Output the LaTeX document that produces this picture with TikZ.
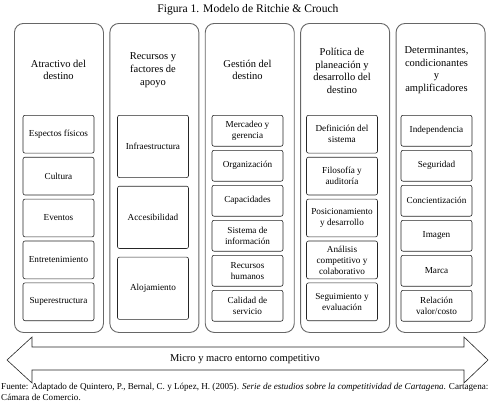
\documentclass[tikz,border=0pt]{standalone}
\usepackage{fontspec}
\setmainfont{Liberation Serif}
\usetikzlibrary{positioning}

\begin{document}
\begin{tikzpicture}[
    x=1pt, y=-1pt,
    node distance=5.5pt,
    column/.style={draw=black!60, line width=0.9pt, rounded corners=9pt, minimum width=89pt, minimum height=309pt, inner sep=0pt},
    header/.style={align=center, inner sep=0pt, font=\fontsize{10.5}{12.7}\selectfont},
    item/.style={draw=black!85, line width=0.6pt, rounded corners=2pt, minimum width=71pt, align=center, inner sep=1pt, font=\fontsize{9.2}{11}\selectfont},
    itemfive/.style={item, minimum height=37.8pt},
    itemthree/.style={item, minimum height=62.3pt},
    itemsix/.style={item, minimum height=30.9pt},
    band/.style={draw=black!85, line width=0.6pt, line join=miter}
]
    \useasboundingbox (0,0) rectangle (492,415);

    % Title
    \node[font=\fontsize{11.6}{13}\selectfont] (titulo) at (248,10) {Figura 1. Modelo de Ritchie \& Crouch};

    % Columns
    \node[column, anchor=north west] (atractivo) at (14,23) {};
    \node[column, right=of atractivo] (recursos) {};
    \node[column, right=of recursos] (gestion) {};
    \node[column, right=of gestion] (politica) {};
    \node[column, right=of politica] (determinantes) {};

    % Headers
    \node[header] (h1) at (58.5,70) {Atractivo del\\destino};
    \node[header] (h2) at (153,70) {Recursos y\\factores de\\apoyo};
    \node[header] (h3) at (247.5,70) {Gestión del\\destino};
    \node[header] (h4) at (342,71) {Política de\\planeación y\\desarrollo del\\destino};
    \node[header] (h5) at (436.5,70) {Determinantes,\\condicionantes\\y\\amplificadores};

    % Atractivo del destino
    \node[itemfive, anchor=north] (espectos) at (58.5,115) {Espectos físicos};
    \node[itemfive, below=3.5pt of espectos] (cultura) {Cultura};
    \node[itemfive, below=3.5pt of cultura] (eventos) {Eventos};
    \node[itemfive, below=3.5pt of eventos] (entretenimiento) {Entretenimiento};
    \node[itemfive, below=3.5pt of entretenimiento] (superestructura) {Superestructura};

    % Recursos y factores de apoyo
    \node[itemthree, anchor=north] (infraestructura) at (153,115) {Infraestructura};
    \node[itemthree, below=8pt of infraestructura] (accesibilidad) {Accesibilidad};
    \node[itemthree, below=8pt of accesibilidad] (alojamiento) {Alojamiento};

    % Gestion del destino
    \node[itemsix, anchor=north] (mercadeo) at (247.5,115) {Mercadeo y\\gerencia};
    \node[itemsix, below=3.5pt of mercadeo] (organizacion) {Organización};
    \node[itemsix, below=3.5pt of organizacion] (capacidades) {Capacidades};
    \node[itemsix, below=3.5pt of capacidades] (sistema) {Sistema de\\información};
    \node[itemsix, below=3.5pt of sistema] (humanos) {Recursos\\humanos};
    \node[itemsix, below=3.5pt of humanos] (calidad) {Calidad de\\servicio};

    % Politica de planeacion
    \node[itemfive, anchor=north] (definicion) at (342,115) {Definición del\\sistema};
    \node[itemfive, below=3.5pt of definicion] (filosofia) {Filosofía y\\auditoría};
    \node[itemfive, below=3.5pt of filosofia] (posicionamiento) {Posicionamiento\\y desarrollo};
    \node[itemfive, below=3.5pt of posicionamiento] (analisis) {Análisis\\competitivo y\\colaborativo};
    \node[itemfive, below=3.5pt of analisis] (seguimiento) {Seguimiento y\\evaluación};

    % Determinantes
    \node[itemsix, anchor=north] (independencia) at (436.5,115) {Independencia};
    \node[itemsix, below=3.5pt of independencia] (seguridad) {Seguridad};
    \node[itemsix, below=3.5pt of seguridad] (concientizacion) {Concientización};
    \node[itemsix, below=3.5pt of concientizacion] (imagen) {Imagen};
    \node[itemsix, below=3.5pt of imagen] (marca) {Marca};
    \node[itemsix, below=3.5pt of marca] (relacion) {Relación\\valor/costo};

    % Double arrow
    \draw[band] (7,360) -- (32,337) -- (32,347) -- (464,347) -- (464,337) -- (488,360)
        -- (464,383) -- (464,370) -- (32,370) -- (32,383) -- cycle;
    \node[font=\fontsize{10.5}{12}\selectfont] (entorno) at (245,359) {Micro y macro entorno competitivo};

    % Source
    \node[anchor=north west, align=left, inner sep=0pt, font=\fontsize{9.1}{11.2}\selectfont] (fuente) at (1,383)
        {Fuente: Adaptado de Quintero, P., Bernal, C. y López, H. (2005). \textit{Serie de estudios sobre la competitividad de Cartagena}. Cartagena:\\Cámara de Comercio.};
\end{tikzpicture}
\end{document}
